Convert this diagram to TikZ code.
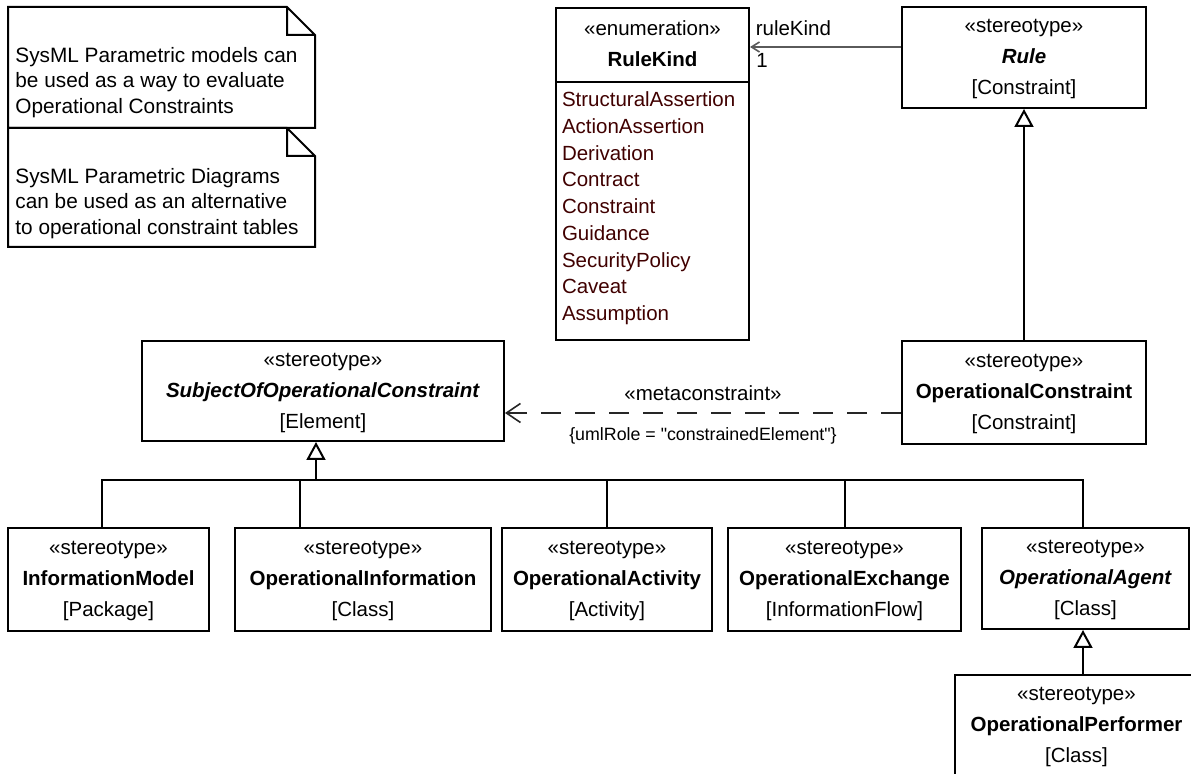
\documentclass[tikz,border=0pt]{standalone}
\usepackage{fontspec}
\setmainfont{Liberation Sans}[Ligatures=TeXOff]
\usetikzlibrary{arrows.meta, shapes.multipart, positioning}
\definecolor{literal}{RGB}{64,0,0}
\definecolor{assocgray}{RGB}{90,90,90}
\newcommand{\stereo}[3]{\begin{tabular}{@{}c@{}}«#1»\\#2\\{}[#3]\end{tabular}}

\begin{document}
\begin{tikzpicture}[
    x=0.5pt, y=-0.5pt,
    font=\fontsize{10.25}{15.5}\selectfont,
    stereobox/.style={rectangle, draw=black, line width=1pt, inner sep=0pt, align=center},
    enumbox/.style={rectangle split, rectangle split parts=2, rectangle split part align={center, left}, draw=black, line width=1pt, inner xsep=3pt, inner ysep=2.5pt, minimum width=96.5pt},
    notebox/.style={draw=black, line width=1pt},
    notetext/.style={inner sep=0pt, anchor=north west, font=\fontsize{10.4}{12.75}\selectfont},
    gen/.style={line width=1pt, -{Triangle[open, length=9pt, width=9.5pt]}},
    tree/.style={line width=1pt},
    assoc/.style={draw=assocgray, line width=0.8pt, -{Straight Barb[length=4pt, width=5pt]}},
    dep/.style={draw=black!85, line width=0.8pt, dash pattern=on 10pt off 7pt, -{Straight Barb[length=7pt, width=9.5pt]}}
]
\useasboundingbox (0,0) rectangle (1191,774);
\clip (0,0) rectangle (1191,774);

% Notes
\foreach \top/\bot in {7/128, 128/247}
    \draw[notebox] (8,\top) -- (287,\top) -- (315,\top+28) -- (315,\bot) -- (8,\bot) -- cycle
        (287,\top) |- (315,\top+28);
\node[notetext] (noteA) at (15,44) {\begin{tabular}{@{}l@{}}SysML Parametric models can\\be used as a way to evaluate\\Operational Constraints\end{tabular}};
\node[notetext] (noteB) at (15,165) {\begin{tabular}{@{}l@{}}SysML Parametric Diagrams\\can be used as an alternative\\to operational constraint tables\end{tabular}};

% Stereotypes
\node[enumbox, anchor=north west] (ruleKind) at (555,7)
    {\begin{tabular}{@{}c@{}}«enumeration»\\\textbf{RuleKind}\end{tabular}
     \nodepart{two}{\fontsize{10.25}{13.375}\selectfont\color{literal}\begin{tabular}{@{}l@{}}StructuralAssertion\\ActionAssertion\\Derivation\\Contract\\Constraint\\Guidance\\SecurityPolicy\\Caveat\\Assumption\rule[-6.5pt]{0pt}{1pt}\end{tabular}}};
\node[stereobox, minimum width=122pt, minimum height=50.5pt] (rule) at (1024,57.5) {\stereo{stereotype}{\textbf{\textit{Rule}}}{Constraint}};
\node[stereobox, minimum width=122pt, minimum height=51.5pt] (opCons) at (1024,392.5) {\stereo{stereotype}{\textbf{OperationalConstraint}}{Constraint}};
\node[stereobox, minimum width=181pt, minimum height=50pt] (subject) at (323,391) {\stereo{stereotype}{\textbf{\textit{SubjectOfOperationalConstraint}}}{Element}};

\node[stereobox, minimum width=100.5pt, minimum height=51.5pt] (infoModel) at (108.5,579.5) {\stereo{stereotype}{\textbf{InformationModel}}{Package}};
\node[stereobox, minimum width=128pt, minimum height=51.5pt] (opInfo) at (363,579.5) {\stereo{stereotype}{\textbf{OperationalInformation}}{Class}};
\node[stereobox, minimum width=105pt, minimum height=51.5pt] (opActivity) at (607,579.5) {\stereo{stereotype}{\textbf{OperationalActivity}}{Activity}};
\node[stereobox, minimum width=116.5pt, minimum height=51.5pt] (opExchange) at (844.5,579.5) {\stereo{stereotype}{\textbf{OperationalExchange}}{InformationFlow}};
\node[stereobox, minimum width=103.5pt, minimum height=50.5pt] (opAgent) at (1085.5,578.5) {\stereo{stereotype}{\textbf{\textit{OperationalAgent}}}{Class}};
\node[stereobox, minimum width=121.5pt, minimum height=50.5pt] (opPerformer) at (1076.5,725.5) {\stereo{stereotype}{\textbf{OperationalPerformer}}{Class}};

% Connectors
\draw[assoc] ([yshift=5.25pt]rule.west) -- ([yshift=5.25pt]rule.west -| ruleKind.east)
    node[above right, inner sep=2.5pt, yshift=2.5pt] {ruleKind}
    node[below right, inner sep=2.75pt] {1};
\draw[gen] (opCons) -- (rule);
\draw[dep] ([yshift=-10.25pt]opCons.west) -- ([yshift=-10.25pt]opCons.west -| subject.east)
    node[midway, above=2.5pt] {«metaconstraint»}
    node[midway, below=3.7pt, font=\fontsize{8.9}{11}\selectfont] {\{umlRole = "constrainedElement"\}};

\coordinate (fork) at (316,480);
\draw[gen] (fork) -- (fork |- subject.south);
\foreach \n/\dx in {infoModel/-3.25, opInfo/-31.5, opActivity/0, opExchange/0.25, opAgent/-1.25}
    \draw[tree] ([xshift=\dx pt]\n.north) |- (fork);
\draw[gen] ([xshift=-1.25pt]opAgent.south |- opPerformer.north) -- ([xshift=-1.25pt]opAgent.south);

\end{tikzpicture}
\end{document}
